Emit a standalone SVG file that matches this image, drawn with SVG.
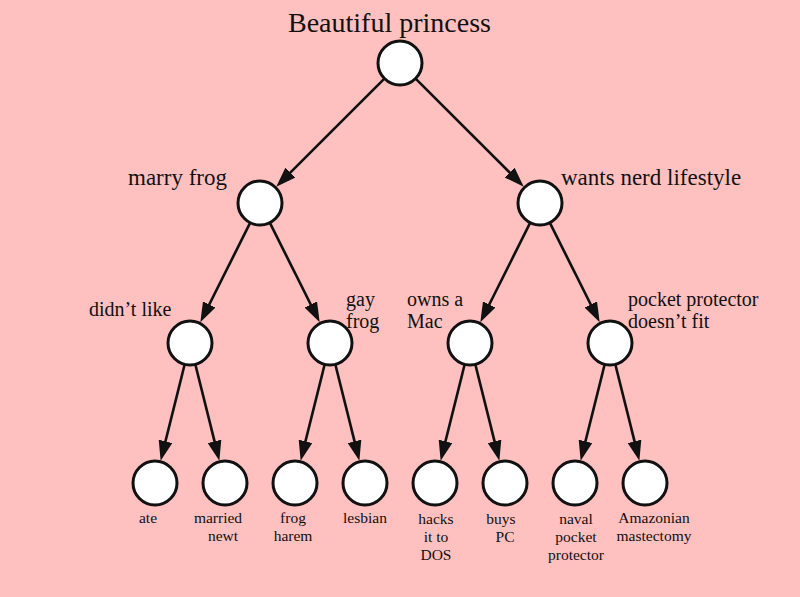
<svg xmlns="http://www.w3.org/2000/svg" width="800" height="597" viewBox="0 0 800 597">
<style>
.n{fill:#fff;stroke:#111;stroke-width:3}
.c line{stroke:#111;stroke-width:2.6;marker-end:url(#ah)}
text{font-family:"Liberation Serif","Times New Roman",serif;fill:#111}
.t0{font-size:28px}
.t1{font-size:23px}
.t2{font-size:20px}
.t3{font-size:15.5px;text-anchor:middle}
</style>
<defs>
<marker id="ah" viewBox="0 0 20 14" markerWidth="20" markerHeight="14" markerUnits="userSpaceOnUse" refX="14" refY="7" orient="auto">
<path d="M0,0 L20,7 L0,14 z" fill="#111"/>
</marker>
</defs>
<rect width="800" height="597" fill="#ffc0c0"/>
<g class="c" id="connectors">
<line x1="384.4" y1="78.6" x2="280.5" y2="182.4"/>
<line x1="415.6" y1="78.6" x2="519.5" y2="182.4"/>
<line x1="250.2" y1="222.7" x2="203" y2="317"/>
<line x1="269.8" y1="222.7" x2="317" y2="317"/>
<line x1="530.2" y1="222.7" x2="483" y2="317"/>
<line x1="549.8" y1="222.7" x2="597" y2="317"/>
<line x1="184.7" y1="364.3" x2="162.1" y2="454.9"/>
<line x1="195.3" y1="364.3" x2="217.9" y2="454.9"/>
<line x1="324.7" y1="364.3" x2="302.1" y2="454.9"/>
<line x1="335.3" y1="364.3" x2="357.9" y2="454.9"/>
<line x1="464.7" y1="364.3" x2="442.1" y2="454.9"/>
<line x1="475.3" y1="364.3" x2="497.9" y2="454.9"/>
<line x1="604.7" y1="364.3" x2="582.1" y2="454.9"/>
<line x1="615.3" y1="364.3" x2="637.9" y2="454.9"/>
</g>
<g id="root"><circle class="n" cx="400" cy="63" r="22"/><text class="t0" x="288" y="32">Beautiful princess</text></g>
<g id="marry-frog"><circle class="n" cx="260" cy="203" r="22"/><text class="t1" x="128" y="185">marry frog</text></g>
<g id="wants-nerd"><circle class="n" cx="540" cy="203" r="22"/><text class="t1" x="561" y="185">wants nerd lifestyle</text></g>
<g id="didnt-like"><circle class="n" cx="190" cy="343" r="22"/><text class="t2" x="89" y="316">didn’t like</text></g>
<g id="gay-frog"><circle class="n" cx="330" cy="343" r="22"/><text class="t2" x="346" y="306">gay</text><text class="t2" x="346" y="328">frog</text></g>
<g id="owns-mac"><circle class="n" cx="470" cy="343" r="22"/><text class="t2" x="407" y="306">owns a</text><text class="t2" x="407" y="328">Mac</text></g>
<g id="pocket-protector"><circle class="n" cx="610" cy="343" r="22"/><text class="t2" x="628" y="306">pocket protector</text><text class="t2" x="628" y="328">doesn’t fit</text></g>
<g id="ate"><circle class="n" cx="155" cy="483" r="22"/><text class="t3" x="148" y="523">ate</text></g>
<g id="married-newt"><circle class="n" cx="225" cy="483" r="22"/><text class="t3" x="218" y="523">married</text><text class="t3" x="223" y="541">newt</text></g>
<g id="frog-harem"><circle class="n" cx="295" cy="483" r="22"/><text class="t3" x="293" y="523">frog</text><text class="t3" x="293" y="541">harem</text></g>
<g id="lesbian"><circle class="n" cx="365" cy="483" r="22"/><text class="t3" x="365" y="523">lesbian</text></g>
<g id="hacks-dos"><circle class="n" cx="435" cy="483" r="22"/><text class="t3" x="436" y="524">hacks</text><text class="t3" x="436" y="542">it to</text><text class="t3" x="436" y="560">DOS</text></g>
<g id="buys-pc"><circle class="n" cx="505" cy="483" r="22"/><text class="t3" x="501" y="524">buys</text><text class="t3" x="505" y="542">PC</text></g>
<g id="naval"><circle class="n" cx="575" cy="483" r="22"/><text class="t3" x="576" y="524">naval</text><text class="t3" x="576" y="542">pocket</text><text class="t3" x="576" y="560">protector</text></g>
<g id="amazonian"><circle class="n" cx="645" cy="483" r="22"/><text class="t3" x="654" y="523">Amazonian</text><text class="t3" x="654" y="541">mastectomy</text></g>
</svg>
